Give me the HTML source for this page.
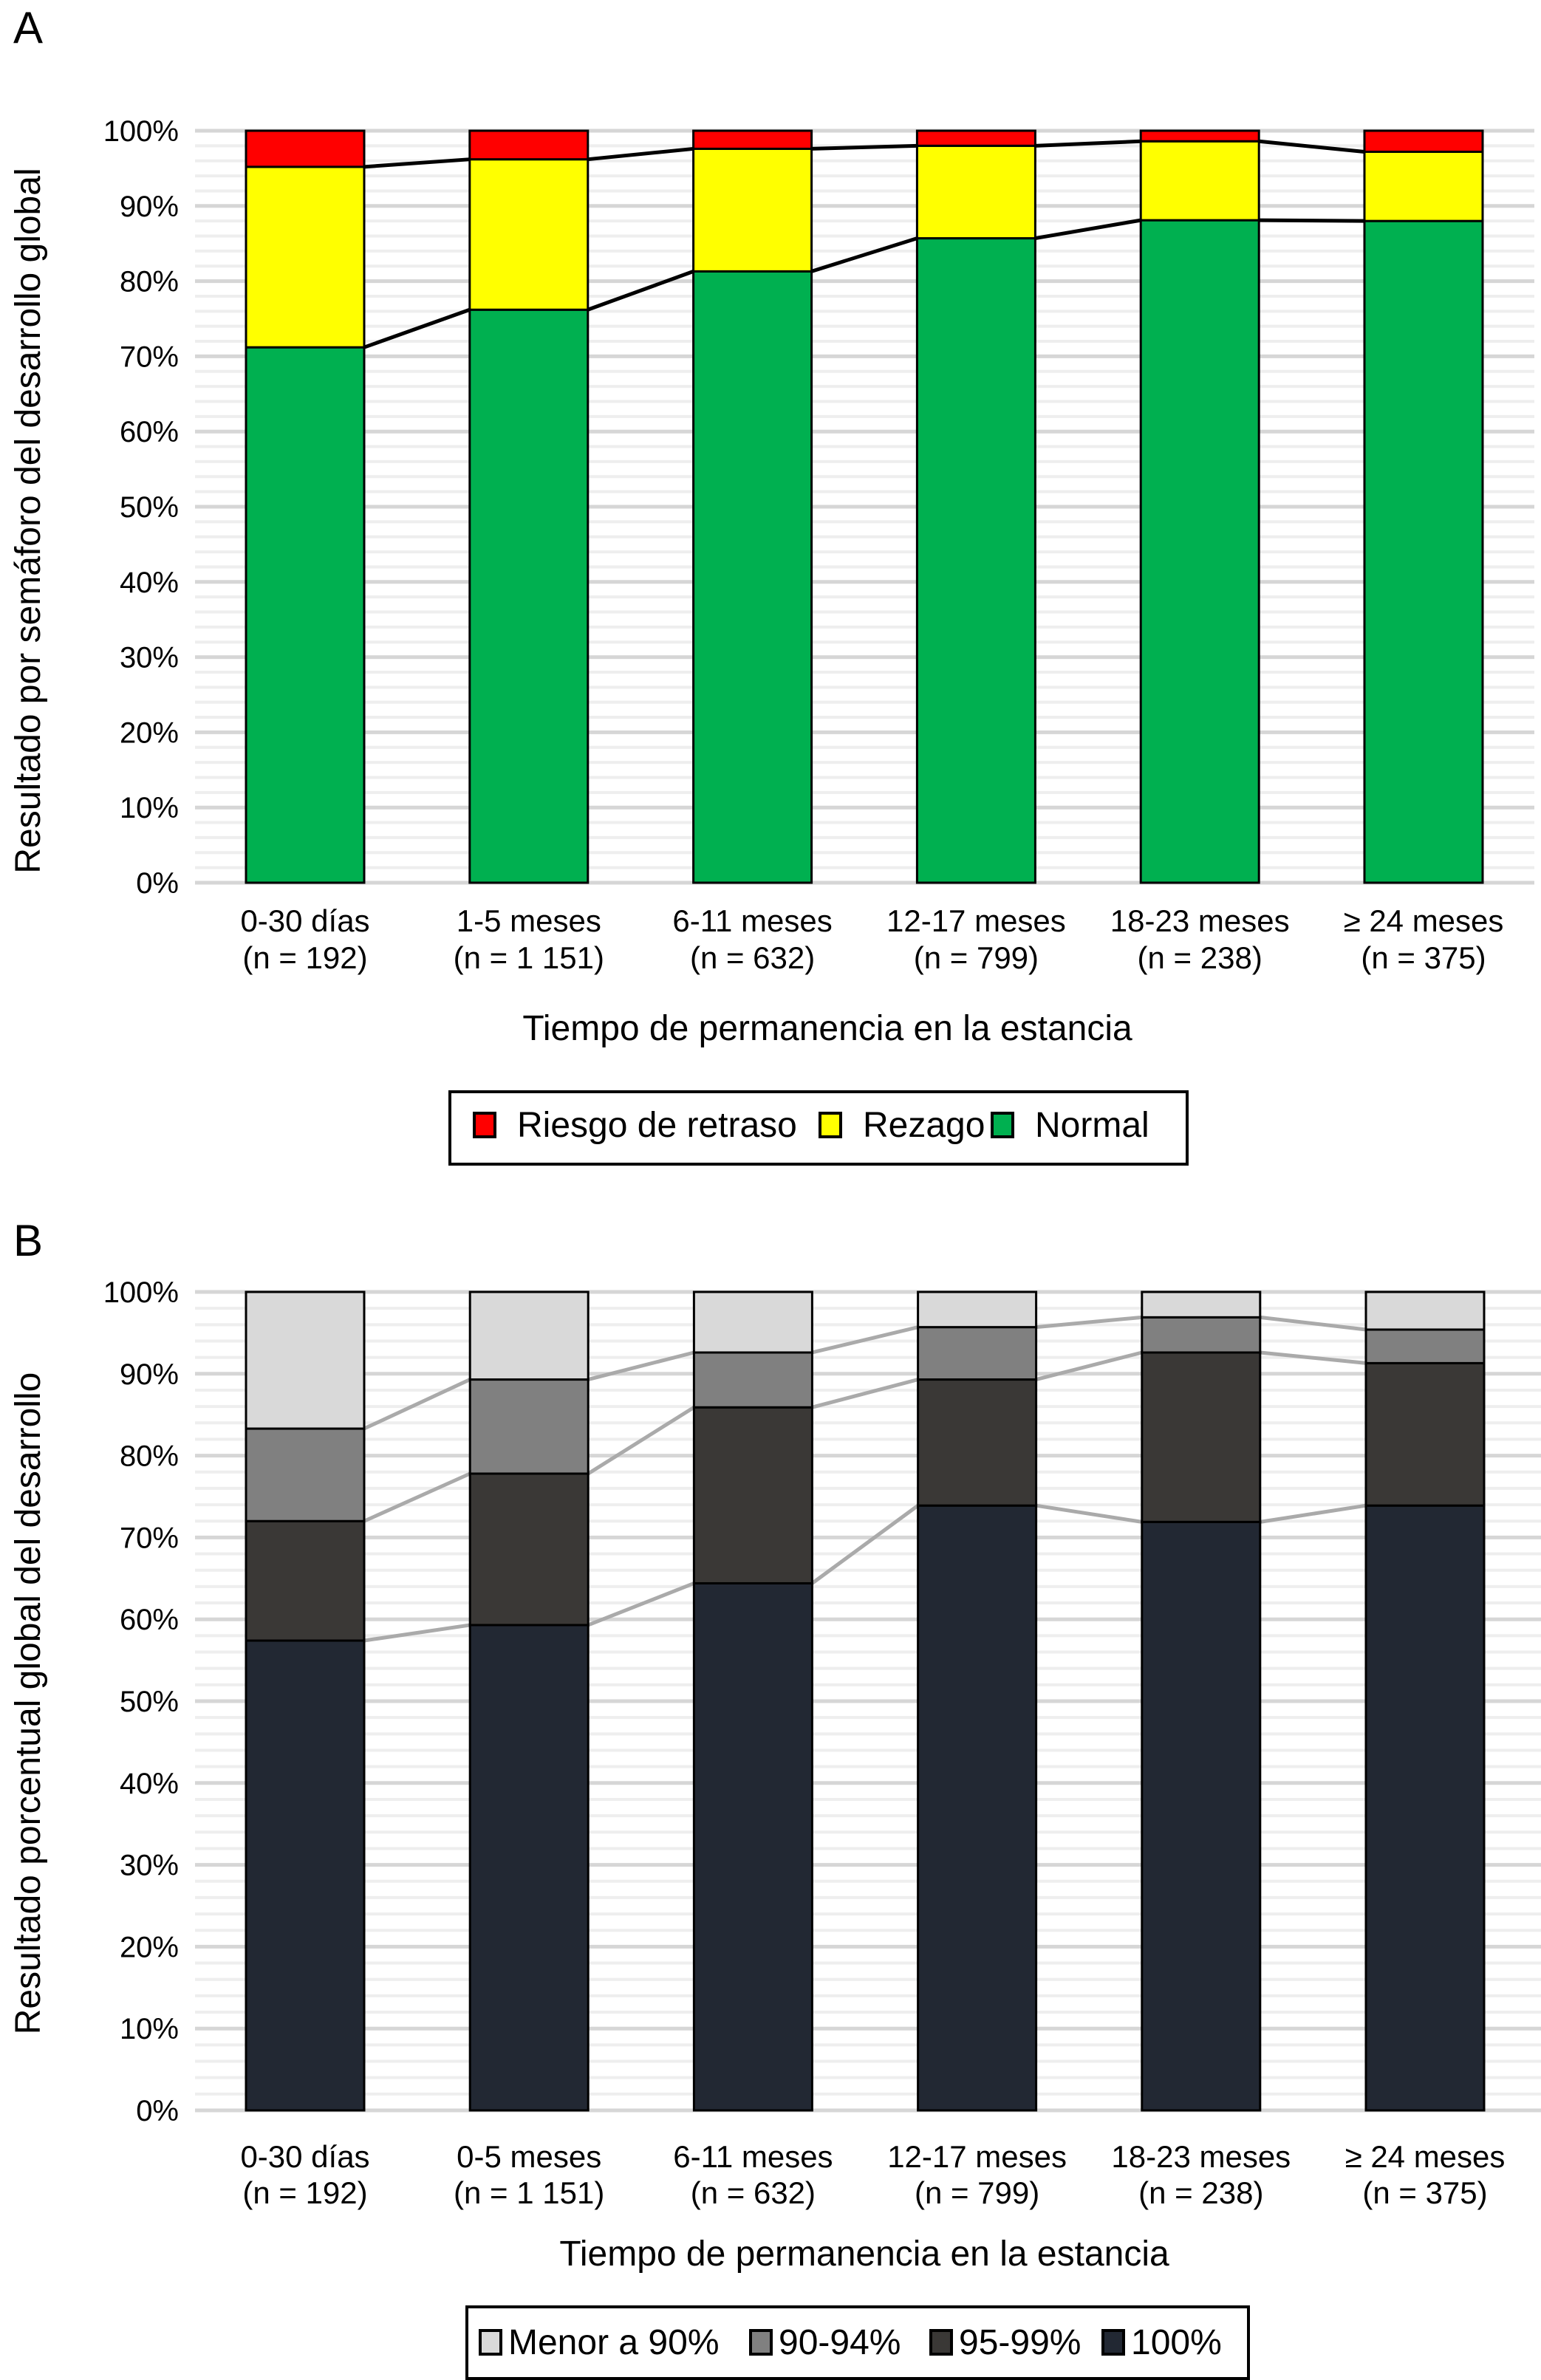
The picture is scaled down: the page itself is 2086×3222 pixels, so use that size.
<!DOCTYPE html>
<html><head><meta charset="utf-8"><style>
html,body{margin:0;padding:0;background:#fff;}
svg{display:block;font-family:"Liberation Sans",Arial,sans-serif;}
</style></head><body>
<svg id="chart" width="2086" height="3222" viewBox="0 0 2086 3222" xmlns="http://www.w3.org/2000/svg">
<text x="18" y="58" font-size="60">A</text>
<text x="18" y="1700" font-size="60">B</text>
</svg>
<script>
// Panel A data
const catsA = ["0-30 días","1-5 meses","6-11 meses","12-17 meses","18-23 meses","≥ 24 meses"];
const nA = ["(n = 192)","(n = 1 151)","(n = 632)","(n = 799)","(n = 238)","(n = 375)"];
const normalA = [71.2, 76.2, 81.3, 85.7, 88.1, 88.0];
const rezagoA = [24.0, 20.0, 16.3, 12.3, 10.5, 9.2];
const riesgoA = [4.8, 3.8, 2.4, 2.0, 1.4, 2.8];
// Panel B data
const catsB = ["0-30 días","0-5 meses","6-11 meses","12-17 meses","18-23 meses","≥ 24 meses"];
const nB = ["(n = 192)","(n = 1 151)","(n = 632)","(n = 799)","(n = 238)","(n = 375)"];
const s100B = [57.4, 59.3, 64.4, 73.9, 71.9, 73.9];
const s9599B = [14.6, 18.5, 21.5, 15.4, 20.7, 17.4];
const s9094B = [11.3, 11.5, 6.7, 6.4, 4.3, 4.1];
const sMenorB = [16.7, 10.7, 7.4, 4.3, 3.1, 4.6];
const ticks = [0,10,20,30,40,50,60,70,80,90,100];

const svg = document.getElementById('chart');
const NS = "http://www.w3.org/2000/svg";
function mk(tag, attrs, parent){const e=document.createElementNS(NS,tag);for(const k in attrs)e.setAttribute(k,attrs[k]);(parent||svg).appendChild(e);return e;}

function panel(cfg){
  const y = v => cfg.y0 + (cfg.y100 - cfg.y0) * v / 100;
  const x = i => cfg.x0 + i * cfg.step;
  const g = mk('g',{});
  
  
  for (let v = 0; v <= 100; v += 2) {
    const major = v % 10 === 0;
    const l = mk('line',{x1:264,x2:cfg.gx2,y1:y(v),y2:y(v),stroke:major?'#d6d6d6':'#eeeeee','stroke-width':major?5:4},g);
    
    
  }
  ticks.forEach(t=>{
    const tx = mk('text',{x:242,y:y(t)+14,'font-size':40,'text-anchor':'end'},g);
    tx.textContent = t + '%';
    
    
  });
  const cum = [];
  for (let i=0;i<cfg.cats.length;i++){let c=0;cum.push(cfg.series.map(s=>{c+=s.vals[i];return c;}));}
  for (let k=0;k<cfg.series.length-1;k++){
    for (let i=0;i<cfg.cats.length-1;i++){
      const ln = mk('line',{x1:x(i)+cfg.bw,x2:x(i+1),y1:y(cum[i][k]),y2:y(cum[i+1][k]),stroke:cfg.lineColor,'stroke-width':5},g);
      
      
    }
  }
  for (let i=0;i<cfg.cats.length;i++){
    let base=0;
    cfg.series.forEach((s,k)=>{
      const top = base + s.vals[i];
      const r = mk('rect',{x:x(i),y:y(top),width:cfg.bw,height:y(base)-y(top),fill:s.color,stroke:'#000','stroke-width':3},g);
      
      
      base = top;
    });
    const c = x(i) + cfg.bw/2;
    const t1 = mk('text',{x:c,y:cfg.ly1,'font-size':42,'text-anchor':'middle'},g);
    t1.textContent = cfg.cats[i];
    
    
    const t2 = mk('text',{x:c,y:cfg.ly2,'font-size':42,'text-anchor':'middle'},g);
    t2.textContent = cfg.ns[i];
    
    
  }
  const xt = mk('text',{x:cfg.xtX,y:cfg.xtY,'font-size':48,'text-anchor':'middle'},g);
  xt.textContent = 'Tiempo de permanencia en la estancia';
  
  
  const yc = cfg.ytC;
  const yt = mk('text',{x:0,y:0,'font-size':48,'text-anchor':'middle',transform:`translate(54 ${yc}) rotate(-90)`},g);
  yt.textContent = cfg.ytitle;
  
  
  const lb = cfg.legend;
  const box = mk('rect',{x:lb.x,y:lb.y,width:lb.w,height:lb.h,fill:'#fff',stroke:'#000','stroke-width':4},g);
  
  
  lb.items.forEach(it=>{
    const sw = mk('rect',{x:it.x,y:lb.cy-16,width:28,height:32,fill:it.color,stroke:'#000','stroke-width':4},g);
    
    
    const lt = mk('text',{x:it.x+lb.off,y:lb.cy+16,'font-size':48},g);
    lt.textContent = it.label;
    
    
  });
}

panel({name:'chart-a', y0:1195, y100:177, x0:333, step:302.8, bw:160, gx2:2077,
  cats:catsA, ns:nA, lineColor:'#000', ly1:1261, ly2:1311, xtX:1120, xtY:1408,
  ytitle:'Resultado por semáforo del desarrollo global', ytC:705,
  series:[{key:'normal',vals:normalA,color:'#00b050'},{key:'rezago',vals:rezagoA,color:'#ffff00'},{key:'riesgo',vals:riesgoA,color:'#ff0000'}],
  legend:{x:609,y:1478,w:998,h:98,cy:1523,off:58,items:[
    {x:642,color:'#ff0000',label:'Riesgo de retraso'},
    {x:1110,color:'#ffff00',label:'Rezago'},
    {x:1343,color:'#00b050',label:'Normal'}]}
});
panel({name:'chart-b', y0:2857, y100:1749, x0:333, step:303.2, bw:160, gx2:2086,
  cats:catsB, ns:nB, lineColor:'#aaaaaa', ly1:2934, ly2:2983, xtX:1170, xtY:3067,
  ytitle:'Resultado porcentual global del desarrollo', ytC:2306,
  series:[{key:'100',vals:s100B,color:'#222833'},{key:'95-99',vals:s9599B,color:'#3a3836'},{key:'90-94',vals:s9094B,color:'#808080'},{key:'menor-90',vals:sMenorB,color:'#d9d9d9'}],
  legend:{x:632,y:3123,w:1058,h:97,cy:3171,off:38,items:[
    {x:650,color:'#d9d9d9',label:'Menor a 90%'},
    {x:1016,color:'#808080',label:'90-94%'},
    {x:1260,color:'#3a3836',label:'95-99%'},
    {x:1493,color:'#222833',label:'100%'}]}
});
</script>
</body></html>
